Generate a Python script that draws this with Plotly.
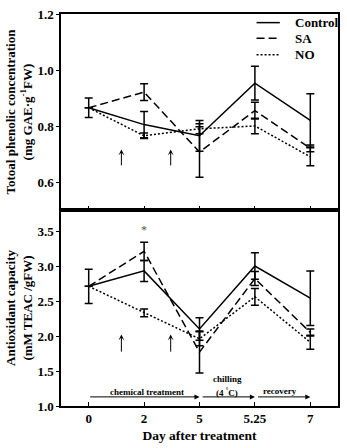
import plotly.graph_objects as go
from plotly.subplots import make_subplots

days = ["0", "2", "5", "5.25", "7"]

# Total phenolic concentration (mg GAE g-1 FW)
tp_control = [0.865, 0.805, 0.765, 0.953, 0.82]
tp_control_err = [0.035, 0.047, 0.055, 0.06, 0.095]
tp_sa = [0.865, 0.921, 0.707, 0.855, 0.72]
tp_sa_err = [None, 0.03, 0.09, 0.03, 0.012]
tp_no = [0.865, 0.765, 0.79, 0.80, 0.69]
tp_no_err = [None, 0.01, 0.018, 0.028, 0.032]

# Antioxidant capacity (mM TEAC / gFW)
ac_control = [2.71, 2.93, 2.10, 3.00, 2.54]
ac_control_err = [0.245, 0.15, 0.16, 0.19, 0.39]
ac_sa = [2.71, 3.21, 1.77, 2.82, 2.05]
ac_sa_err = [None, 0.13, 0.30, 0.10, 0.05]
ac_no = [2.71, 2.33, 1.96, 2.56, 1.91]
ac_no_err = [None, 0.055, 0.10, 0.12, 0.10]

names = ["Control", "SA", "NO"]
dashes = ["solid", "8px,4px", "2px,2px"]

FONT = "Liberation Serif"
BLK = "black"

fig = make_subplots(rows=2, cols=1, shared_xaxes=True, vertical_spacing=0.0)

upper = [(tp_control, tp_control_err), (tp_sa, tp_sa_err), (tp_no, tp_no_err)]
lower = [(ac_control, ac_control_err), (ac_sa, ac_sa_err), (ac_no, ac_no_err)]

for i, (vals, err) in enumerate(upper):
    fig.add_trace(go.Scatter(
        x=days, y=vals, mode="lines", name=names[i],
        line=dict(color=BLK, width=1.5, dash=dashes[i]),
        error_y=dict(type="data", array=err, visible=True, color=BLK, thickness=1.5, width=4),
        showlegend=False), row=1, col=1)

for i, (vals, err) in enumerate(lower):
    fig.add_trace(go.Scatter(
        x=days, y=vals, mode="lines", name=names[i],
        line=dict(color=BLK, width=1.5, dash=dashes[i]),
        error_y=dict(type="data", array=err, visible=True, color=BLK, thickness=1.5, width=4),
        showlegend=False), row=2, col=1)

axis_common = dict(showline=True, linecolor=BLK, linewidth=1.5, mirror=True,
                   showgrid=False, zeroline=False,
                   tickfont=dict(family=FONT, size=13, color=BLK))

fig.update_xaxes(**axis_common, type="category", range=[-0.5, 4.5],
                 ticks="inside", ticklen=4, tickcolor=BLK, tickwidth=1.2)
fig.update_xaxes(showticklabels=False, row=1, col=1)
fig.update_xaxes(showticklabels=True, tickprefix="<b>", ticksuffix="</b>",
                 title=dict(text="<b>Day after treatment</b>", font=dict(family=FONT, size=13.5, color=BLK), standoff=5),
                 row=2, col=1)

fig.update_yaxes(**axis_common, ticks="outside", ticklen=3, tickcolor=BLK, tickwidth=1.2)
fig.update_yaxes(range=[0.5, 1.2], tickvals=[0.6, 0.8, 1.0, 1.2],
                 ticktext=["<b>0.6</b>", "<b>0.8</b>", "<b>1.0</b>", "<b>1.2</b>"],
                 title=dict(text="<b>Totoal phenolic concentration<br>(mg GAE·g<sup>-1</sup>FW)</b>",
                            font=dict(family=FONT, size=13, color=BLK), standoff=2),
                 row=1, col=1)
fig.update_yaxes(range=[1.0, 3.8], tickvals=[1.0, 1.5, 2.0, 2.5, 3.0, 3.5],
                 ticktext=["<b>1.0</b>", "<b>1.5</b>", "<b>2.0</b>", "<b>2.5</b>", "<b>3.0</b>", "<b>3.5</b>"],
                 title=dict(text="<b>Antioxidant capacity<br>(mM TEAC /gFW)</b>",
                            font=dict(family=FONT, size=13, color=BLK), standoff=2),
                 row=2, col=1)

fig.update_layout(yaxis=dict(domain=[0.5, 1.0]), yaxis2=dict(domain=[0.0, 0.5]))

ann = []
shapes = []
# treatment arrows in both panels
for xpos in [0.59, 1.48]:
    ann.append(dict(x=xpos, y=0.716, ax=xpos, ay=0.654, xref="x", yref="y", axref="x", ayref="y",
                    text="", showarrow=True, arrowhead=3, arrowsize=1, arrowwidth=1, arrowcolor=BLK))
    ann.append(dict(x=xpos, y=2.02, ax=xpos, ay=1.755, xref="x2", yref="y2", axref="x2", ayref="y2",
                    text="", showarrow=True, arrowhead=3, arrowsize=1, arrowwidth=1, arrowcolor=BLK))

# timeline arrows
for (x0, x1) in [(0, 2), (2.03, 3), (3.03, 4)]:
    ann.append(dict(x=x1, y=1.13, ax=x0, ay=1.13, xref="x2", yref="y2", axref="x2", ayref="y2",
                    text="", showarrow=True, arrowhead=2, arrowsize=1, arrowwidth=1, arrowcolor=BLK))

small = dict(family=FONT, size=9, color=BLK)
ann.append(dict(x=1.05, y=1.2, xref="x2", yref="y2", text="<b>chemical treatment</b>",
                showarrow=False, font=small))
ann.append(dict(x=2.5, y=1.38, xref="x2", yref="y2", text="<b>chilling</b>",
                showarrow=False, font=small))
ann.append(dict(x=2.5, y=1.2, xref="x2", yref="y2", text="<b>(4 <sup>°</sup>C)</b>",
                showarrow=False, font=small))
ann.append(dict(x=3.45, y=1.21, xref="x2", yref="y2", text="<b>recovery</b>",
                showarrow=False, font=small))
ann.append(dict(x=1, y=3.52, xref="x2", yref="y2", text="*",
                showarrow=False, font=dict(family=FONT, size=12, color="#555555")))

# manual legend (paper coordinates of the plot area)
leg_y = [0.978, 0.938, 0.896]
for i, nm in enumerate(names):
    shapes.append(dict(type="line", xref="paper", yref="paper", x0=0.706, x1=0.79,
                       y0=leg_y[i], y1=leg_y[i], line=dict(color=BLK, width=1.5, dash=dashes[i])))
    ann.append(dict(x=0.839, y=leg_y[i], xref="paper", yref="paper", xanchor="left", yanchor="middle",
                    text="<b>%s</b>" % nm, showarrow=False,
                    font=dict(family=FONT, size=13, color=BLK)))

fig.update_layout(
    width=347, height=448,
    margin=dict(l=61, r=7, t=8, b=35),
    paper_bgcolor="white", plot_bgcolor="white",
    font=dict(family=FONT, size=12, color=BLK),
    showlegend=False,
    annotations=ann,
    shapes=shapes,
)

fig.write_html("out.html")
